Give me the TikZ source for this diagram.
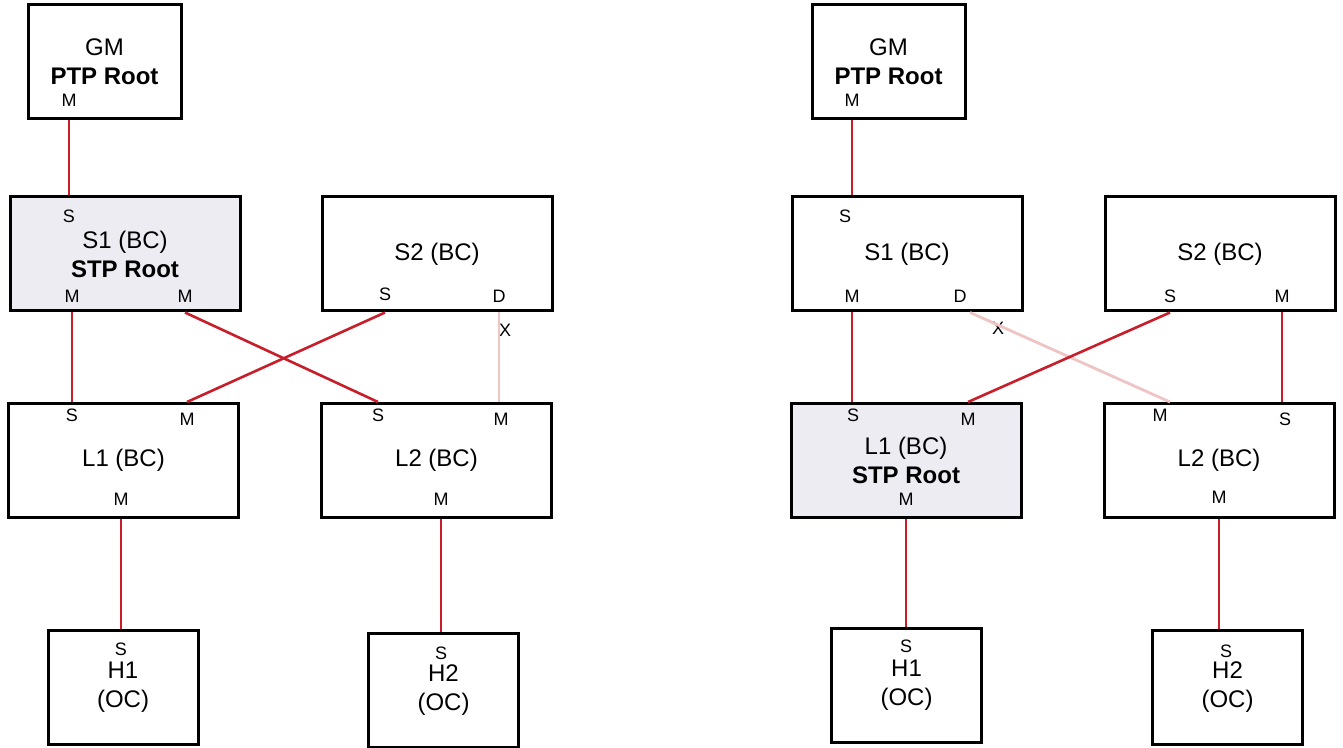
\documentclass[tikz,border=0pt]{standalone}
\usepackage{fontspec}
\setmainfont{Liberation Sans}
\usetikzlibrary{positioning}
\definecolor{linkRed}{RGB}{200,30,42}
\definecolor{blockedRed}{RGB}{238,196,196}
\definecolor{rootFill}{RGB}{238,236,243}

\begin{document}
\begin{tikzpicture}[x=0.5pt,y=-0.5pt,
  box/.style={draw, line width=1.5pt, inner sep=0pt, minimum height=57pt,
    align=center, font=\fontsize{12}{14.5}\selectfont},
  bridge/.style={box, minimum width=115pt},
  host/.style={box, minimum width=75pt},
  root/.style={fill=rootFill},
  port/.style={inner sep=0pt, font=\fontsize{9}{10}\selectfont},
  link/.style={linkRed, line width=1.3pt},
  blocked/.style={blockedRed, line width=1.4pt},
]
\useasboundingbox (0,0) rectangle (1343,748);

% left: S1 is STP root
\node[box, minimum width=76.5pt] (gmA) at (104.5,61.5) {GM\\\textbf{PTP Root}};
\node[bridge, root] (s1A) at (125,254) {S1 (BC)\\\textbf{STP Root}};
\node[bridge] (s2A) at (437,254) {S2 (BC)};
\node[bridge] (l1A) at (123.5,460.5) {L1 (BC)};
\node[bridge] (l2A) at (436.5,460.5) {L2 (BC)};
\node[host] (h1A) at (123,687.5) {H1\\(OC)};
\node[host] (h2A) at (443.5,690.5) {H2\\(OC)};

\node[port] (gmAm) at (69,100) {M};
\node[port] (s1As) at (69,216) {S};
\node[port] (s1Am) at (72,296) {M};
\node[port] (s1Amm) at (185,296) {M};
\node[port] (s2As) at (385,294) {S};
\node[port] (s2Ad) at (499,296) {D};
\node[port] (l1As) at (72,415) {S};
\node[port] (l1Am) at (187,419) {M};
\node[port] (l1Amb) at (121,499) {M};
\node[port] (l2As) at (378,415) {S};
\node[port] (l2Am) at (501,419) {M};
\node[port] (l2Amb) at (441,499) {M};
\node[port] (h1As) at (121,649) {S};
\node[port] (h2As) at (441,653) {S};
\node[port] (xA) at (505,330) {X};

\draw[link] (gmA.south -| gmAm) -- (s1A.north -| s1As);
\draw[link] (s1A.south -| s1Am) -- (l1A.north -| s1Am);
\draw[link] (s1A.south -| s1Amm) -- (l2A.north -| l2As);
\draw[link] (s2A.south -| s2As) -- (l1A.north -| l1Am);
\draw[blocked] (s2A.south -| s2Ad) -- (l2A.north -| s2Ad);
\draw[link] (l1A.south -| l1Amb) -- (h1A.north -| l1Amb);
\draw[link] (l2A.south -| l2Amb) -- (h2A.north -| l2Amb);

% right: L1 is STP root
\node[box, minimum width=76.5pt] (gmB) at (888.5,61.5) {GM\\\textbf{PTP Root}};
\node[bridge] (s1B) at (907,254) {S1 (BC)};
\node[bridge] (s2B) at (1220,254) {S2 (BC)};
\node[bridge, root] (l1B) at (906,460.5) {L1 (BC)\\\textbf{STP Root}};
\node[bridge] (l2B) at (1219,460.5) {L2 (BC)};
\node[host] (h1B) at (906.5,685) {H1\\(OC)};
\node[host] (h2B) at (1227.5,687.5) {H2\\(OC)};

\node[port] (gmBm) at (852,100) {M};
\node[port] (s1Bs) at (845,216) {S};
\node[port] (s1Bm) at (852,296) {M};
\node[port] (s1Bd) at (960,296) {D};
\node[port] (s2Bs) at (1170,296) {S};
\node[port] (s2Bm) at (1282,296) {M};
\node[port] (l1Bs) at (853,415) {S};
\node[port] (l1Bm) at (968,419) {M};
\node[port] (l1Bmb) at (906,499) {M};
\node[port] (l2Bm) at (1160,415) {M};
\node[port] (l2Bs) at (1285,419) {S};
\node[port] (l2Bmb) at (1219,497) {M};
\node[port] (h1Bs) at (906,646) {S};
\node[port] (h2Bs) at (1226,651) {S};
\node[port] (xB) at (998,328) {X};

\draw[link] (gmB.south -| gmBm) -- (s1B.north -| gmBm);
\draw[link] (s1B.south -| s1Bm) -- (l1B.north -| s1Bm);
\draw[blocked] ([xshift=5pt]s1B.south -| s1Bd) -- ([xshift=5pt]l2B.north -| l2Bm);
\draw[link] (s2B.south -| s2Bs) -- (l1B.north -| l1Bm);
\draw[link] (s2B.south -| s2Bm) -- (l2B.north -| s2Bm);
\draw[link] (l1B.south -| l1Bmb) -- (h1B.north -| l1Bmb);
\draw[link] (l2B.south -| l2Bmb) -- (h2B.north -| l2Bmb);
\end{tikzpicture}
\end{document}
